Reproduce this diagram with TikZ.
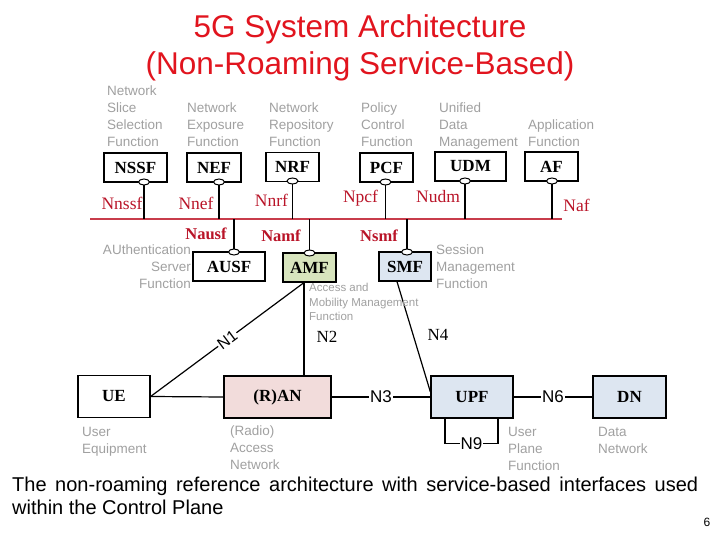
\documentclass[tikz,border=0pt]{standalone}
\usepackage{fontspec}
\setmainfont{Liberation Serif}
\newfontfamily\arialfont{Liberation Sans}
\usetikzlibrary{shapes.geometric}
\definecolor{titlered}{RGB}{225,20,30}
\definecolor{ifred}{RGB}{185,20,40}
\definecolor{busred}{RGB}{200,60,75}
\definecolor{descgray}{RGB}{160,160,160}
\definecolor{amfgreen}{RGB}{215,228,189}
\definecolor{upblue}{RGB}{221,230,241}
\definecolor{ranpink}{RGB}{242,220,219}

\begin{document}
\begin{tikzpicture}[x=1pt,y=-1pt,
        nf/.style={draw,line width=1.2pt,inner sep=0pt,minimum height=29pt,
            font=\bfseries\fontsize{17}{19}\selectfont},
        upnode/.style={nf,minimum height=42pt},
        port/.style={ellipse,draw,fill=white,line width=1pt,inner sep=0pt,
            minimum width=11pt,minimum height=6pt},
        stub/.style={line width=1.3pt},
        link/.style={line width=1.2pt},
        bus/.style={busred,line width=2pt},
        iface/.style={text=ifred,inner sep=0pt,font=\fontsize{17.5}{19}\selectfont},
        desc/.style={text=descgray,inner sep=0pt,align=left,anchor=north west,
            font=\arialfont\fontsize{13.5}{16.8}\selectfont},
        reflbl/.style={inner sep=1pt,font=\fontsize{17}{19}\selectfont},
        sanslbl/.style={fill=white,inner sep=1pt,font=\arialfont\fontsize{17}{19}\selectfont}]
                \useasboundingbox (0,0) rectangle (720,540);

                \node[anchor=base,text=titlered,font=\arialfont\fontsize{31.5}{37}\selectfont]
                    (title1) at (360,38) {5G System Architecture};
                \node[anchor=base,text=titlered,font=\arialfont\fontsize{31.5}{37}\selectfont]
                    (title2) at (360,75) {(Non-Roaming Service-Based)};

                \coordinate (busL) at (90,219);
                \coordinate (busR) at (562,219);
                \draw[bus] (busL) -- (busR);

                \node[nf,minimum width=63pt] (nssf) at (135.5,167.5) {NSSF};
                \node[nf,minimum width=54pt] (nef) at (214,167.5) {NEF};
                \node[nf,minimum width=53pt] (nrf) at (292.5,167) {NRF};
                \node[nf,minimum width=53pt] (pcf) at (386.5,167.5) {PCF};
                \node[nf,minimum width=71pt] (udm) at (470.5,166.5) {UDM};
                \node[nf,minimum width=53pt] (af) at (551.5,166.5) {AF};

                \node[nf,minimum width=72pt] (ausf) at (229,266.5) {AUSF};
                \node[nf,minimum width=53pt,fill=amfgreen] (amf) at (309.5,267.5) {AMF};
                \node[nf,minimum width=52pt,fill=upblue] (smf) at (405,266.5) {SMF};

                \node[port] (nssf-p) at (144,182) {};
                \node[port] (nef-p) at (219,182) {};
                \node[port] (nrf-p) at (292.5,181) {};
                \node[port] (pcf-p) at (385.5,182) {};
                \node[port] (udm-p) at (465,181) {};
                \node[port] (af-p) at (552,181) {};
                \node[port] (ausf-p) at (234,252) {};
                \node[port] (amf-p) at (309.5,253) {};
                \node[port] (smf-p) at (407,252) {};

                \foreach \p in {nssf-p,nef-p,nrf-p,pcf-p,udm-p,af-p}
                    \draw[stub] (\p.south) -- (\p.south |- busL);
                \foreach \p in {ausf-p,amf-p,smf-p}
                    \draw[stub] (\p.north) -- (\p.north |- busL);

                \node[iface] (nnssf) at (122,203) {Nnssf};
                \node[iface] (nnef) at (196,203) {Nnef};
                \node[iface] (nnrf) at (271.5,200) {Nnrf};
                \node[iface] (npcf) at (360.5,198) {Npcf};
                \node[iface] (nudm) at (438,197) {Nudm};
                \node[iface] (naf) at (576.5,205) {Naf};
                \node[iface,font=\bfseries\fontsize{16.5}{18}\selectfont] (nausf) at (206,234) {Nausf};
                \node[iface,font=\bfseries\fontsize{16.5}{18}\selectfont] (namf) at (281,236) {Namf};
                \node[iface,font=\bfseries\fontsize{16.5}{18}\selectfont] (nsmf) at (379,236) {Nsmf};

                \node[upnode,minimum width=72pt] (ue) at (114,396.5) {UE};
                \node[upnode,minimum width=107pt,fill=ranpink] (ran) at (277.5,397) {(R)AN};
                \node[upnode,minimum width=82pt,fill=upblue] (upf) at (472,397) {UPF};
                \node[upnode,minimum width=73pt,fill=upblue] (dn) at (629.5,397) {DN};

                \coordinate (amf-b) at ([xshift=-5.5pt]amf.south);
                \coordinate (smf-b) at ([xshift=-8pt]smf.south);

                \draw[link] (ue.east) -- (ran.west);
                \draw[link] (ue.east) -- (amf-b)
                    node[sloped,midway,sanslbl,font=\arialfont\fontsize{16}{18}\selectfont] {N1};
                \draw[link] (amf-b) -- (amf-b |- ran.north)
                    node[pos=0.585,right=11pt,reflbl] {N2};
                \draw[link] (smf-b) -- ([yshift=5pt]upf.west)
                    node[pos=0.48,right=13pt,reflbl] {N4};
                \draw[link] (ran.east) -- (upf.west) node[midway,sanslbl] {N3};
                \draw[link] (upf.east) -- (dn.west) node[midway,sanslbl] {N6};
                \draw[link] ([xshift=-27pt]upf.south) |- node[pos=0.75,sanslbl] {N9}
                    ([xshift=26pt,yshift=-25pt]upf.south) -- ([xshift=26pt]upf.south);

                \node[desc] (nssf-d) at (107,86) {Network\\Slice\\Selection\\Function};
                \node[desc] (nef-d) at (187,103) {Network\\Exposure\\Function};
                \node[desc] (nrf-d) at (269,103) {Network\\Repository\\Function};
                \node[desc] (pcf-d) at (361,103) {Policy\\Control\\Function};
                \node[desc] (udm-d) at (439,103) {Unified\\Data\\Management};
                \node[desc] (af-d) at (528,120) {Application\\Function};
                \node[desc,align=right,anchor=north east] (ausf-d) at (191,245)
                    {AUthentication\\Server\\Function};
                \node[desc] (smf-d) at (436,245) {Session\\Management\\Function};
                \node[desc,font=\arialfont\fontsize{11.5}{14.6}\selectfont] (amf-d) at (309,283)
                    {Access and\\Mobility Management\\Function};
                \node[desc] (ue-d) at (82,427) {User\\Equipment};
                \node[desc] (ran-d) at (230,426) {(Radio)\\Access\\Network};
                \node[desc] (upf-d) at (508,427) {User\\Plane\\Function};
                \node[desc] (dn-d) at (598,427) {Data\\Network};

                \node[anchor=north west,inner sep=0pt,text width=686pt,align=justify,
                    font=\arialfont\fontsize{20}{23}\selectfont] (caption) at (12,477)
                    {The non-roaming reference architecture with service-based interfaces used within the Control Plane};
                \node[font=\arialfont\fontsize{12}{14}\selectfont] (pagenum) at (707,522) {6};
\end{tikzpicture}
\end{document}
